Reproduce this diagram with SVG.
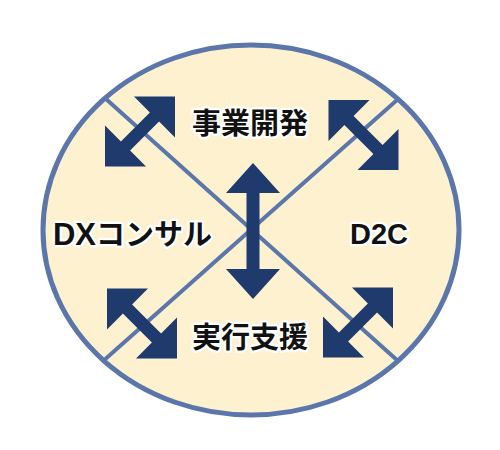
<svg xmlns="http://www.w3.org/2000/svg" width="500" height="450" viewBox="0 0 500 450">
<defs>
<style>
.lbl{font-family:"Liberation Sans","Noto Sans CJK JP",sans-serif;font-weight:bold;font-size:29px;fill:#111;stroke:#fff;stroke-width:4.5px;stroke-linejoin:round;paint-order:stroke;text-anchor:middle}
.div{stroke:#5b76ab;stroke-width:4;fill:none}
.arr{fill:#1f3a6c}
</style>
<polygon id="darr" points="-49.5,0 -20.5,-29 -20.5,-6.5 20.5,-6.5 20.5,-29 49.5,0 20.5,29 20.5,6.5 -20.5,6.5 -20.5,29"/>
</defs>
<rect width="500" height="450" fill="#fff"/>
<g id="circle">
<ellipse cx="251" cy="230" rx="208" ry="185" fill="#fef1cf" stroke="#5b76ab" stroke-width="5"/>
</g>
<g id="connectors">
<line class="div" x1="106" y1="99" x2="398" y2="361"/>
<line class="div" x1="397" y1="100" x2="102" y2="362"/>
<use href="#darr" class="arr" transform="translate(140,131.5) rotate(-45)"/>
<use href="#darr" class="arr" transform="translate(363.5,135) rotate(45)"/>
<use href="#darr" class="arr" transform="translate(142,323.5) rotate(45)"/>
<use href="#darr" class="arr" transform="translate(358,322.5) rotate(-45)"/>
<polygon class="arr" points="253,163 280,193 259.5,193 259.5,269 280,269 253,299 226,269 246.5,269 246.5,193 226,193"/>
</g>
<g id="n-jigyo"><text class="lbl" x="250" y="134">事業開発</text></g>
<g id="n-dx"><text class="lbl" x="132.5" y="245"><tspan font-size="31">DX</tspan>コンサル</text></g>
<g id="n-d2c"><text class="lbl" x="379" y="244" font-size="32">D2C</text></g>
<g id="n-jikko"><text class="lbl" x="250" y="348">実行支援</text></g>
</svg>
